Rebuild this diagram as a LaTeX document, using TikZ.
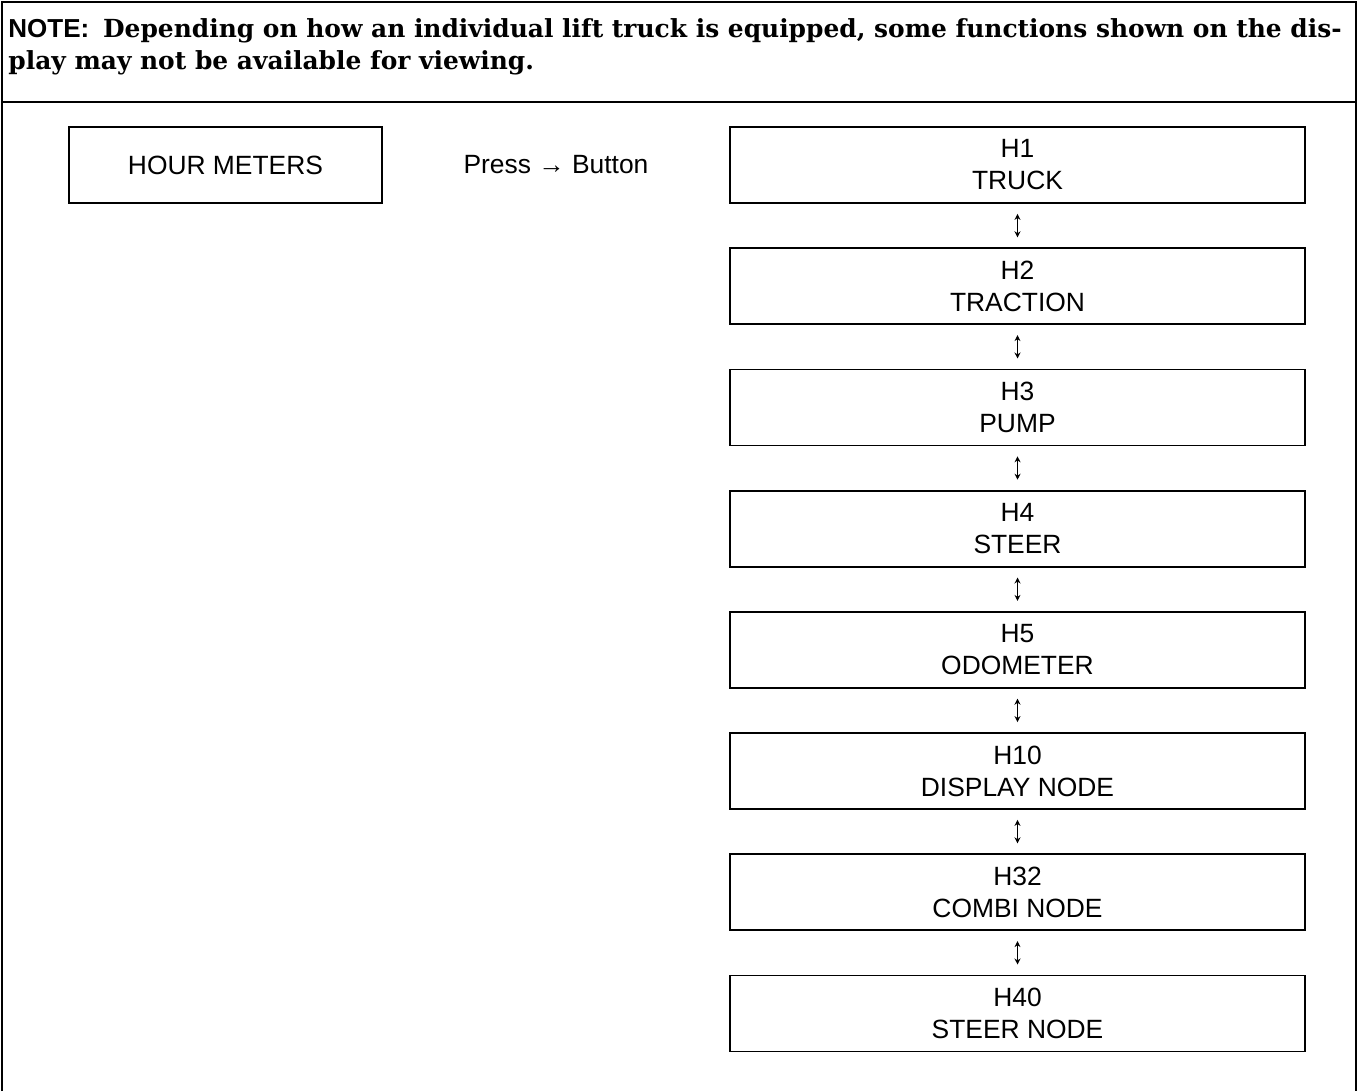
\documentclass[tikz,border=0pt]{standalone}
\usepackage{fontspec}
\setmainfont{Liberation Sans}
\setsansfont{Liberation Sans}
\newfontfamily\notefont{DejaVu Serif}
\usetikzlibrary{arrows.meta}

\begin{document}
\begin{tikzpicture}[
    x=0.5pt, y=-0.5pt,
    node distance=60.6pt,
    every node/.style={font=\fontsize{13.2}{16}\selectfont, align=center},
    menubox/.style={draw, line width=0.9pt, rectangle, minimum width=287.5pt, minimum height=38pt, inner sep=0pt},
    leftbox/.style={draw, line width=0.9pt, rectangle, minimum width=156.5pt, minimum height=38pt, inner sep=0pt}
    ]
    \useasboundingbox (0,0) rectangle (1358,1091);

    % Frame
    \draw[line width=1pt] (2,1091) -- (2,2) -- (1356,2) -- (1356,1091);
    \draw[line width=1pt] (2,102) -- (1356,102);
    \node[anchor=north west, align=left, inner sep=0pt, font=\fontsize{12.45}{16}\selectfont] (note) at (8,18)
        {{\sffamily\bfseries\fontsize{13}{16}\selectfont NOTE:}\ \ {\notefont\bfseries Depending on how an individual lift truck is equipped, some functions shown on the dis-}\\
         {\notefont\bfseries play may not be available for viewing.}};

    % Nodes
    \node[leftbox] (hourMeters) at (225.5,165) {HOUR METERS};
    \node (press) at (556,165) {Press → Button};
    \node[menubox] (h1) at (1017.5,165) {H1\\TRUCK};
    \node[menubox] (h2) [below of=h1] {H2\\TRACTION};
    \node[menubox] (h3) [below of=h2] {H3\\PUMP};
    \node[menubox] (h4) [below of=h3] {H4\\STEER};
    \node[menubox] (h5) [below of=h4] {H5\\ODOMETER};
    \node[menubox] (h10) [below of=h5] {H10\\DISPLAY NODE};
    \node[menubox] (h32) [below of=h10] {H32\\COMBI NODE};
    \node[menubox] (h40) [below of=h32] {H40\\STEER NODE};

    % Arrows
    \tikzset{updown/.style={{Stealth[length=3pt,width=3pt]}-{Stealth[length=3pt,width=3pt]}, line width=0.6pt, shorten <=5pt, shorten >=5pt}}
    \draw[updown] (h1) -- (h2);
    \draw[updown] (h2) -- (h3);
    \draw[updown] (h3) -- (h4);
    \draw[updown] (h4) -- (h5);
    \draw[updown] (h5) -- (h10);
    \draw[updown] (h10) -- (h32);
    \draw[updown] (h32) -- (h40);

\end{tikzpicture}
\end{document}
